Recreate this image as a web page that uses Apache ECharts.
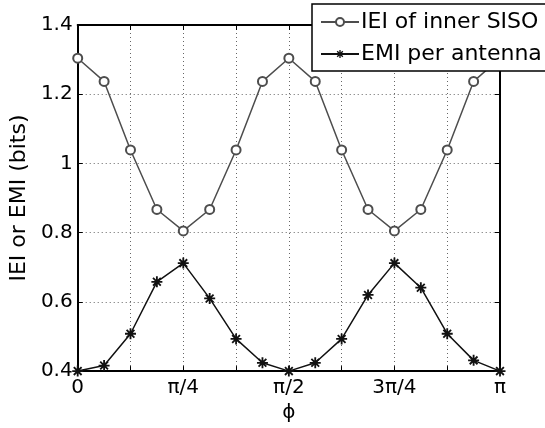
<!DOCTYPE html>
<html>
<head>
<meta charset="utf-8">
<script src="https://cdn.jsdelivr.net/npm/echarts@6/dist/echarts.min.js"></script>
<style>
html,body{margin:0;padding:0;background:#fff;}
#chart{width:545px;height:428px;}
</style>
</head>
<body>
<div id="chart"></div>
<script>
// x positions in steps of pi/16
const phiCategories = ['0','π/16','π/8','3π/16','π/4','5π/16','3π/8','7π/16','π/2','9π/16','5π/8','11π/16','3π/4','13π/16','7π/8','15π/16','π'];
const xTickLabels = {0:'0',4:'π/4',8:'π/2',12:'3π/4',16:'π'};
const yTickLabels = ['0.4','0.6','0.8','1','1.2','1.4'];
const ieiInnerSISO = [1.304,1.237,1.039,0.867,0.805,0.867,1.039,1.237,1.304,1.237,1.039,0.867,0.805,0.867,1.039,1.237,1.304];
const emiPerAntenna = [0.400,0.416,0.508,0.658,0.712,0.610,0.493,0.424,0.400,0.424,0.493,0.620,0.712,0.641,0.508,0.431,0.400];
const seriesNames = ['IEI of inner SISO','EMI per antenna'];

const FONT = 'DejaVu Sans';
const asterisk = 'path://M-1,-6L1,-6L1,6L-1,6Z M-6,-1L6,-1L6,1L-6,1Z M-3.53,-4.95L4.95,3.53L3.53,4.95L-4.95,-3.53Z M-3.53,4.95L-4.95,3.53L3.53,-4.95L4.95,-3.53Z';

const chart = echarts.init(document.getElementById('chart'), null, {renderer:'canvas'});
const gridLine = {show:true, lineStyle:{color:'#666', width:1, type:[1,3]}};
const axisLine = {show:true, onZero:false, lineStyle:{color:'#000', width:2}};
const tick = {show:true, inside:true, length:5, lineStyle:{color:'#000', width:1}};

chart.setOption({
  animation:false,
  backgroundColor:'#fff',
  grid:{left:76, top:25, right:45, bottom:50, containLabel:false},
  legend:{
    orient:'vertical', left:312, top:4,
    data:seriesNames,
    itemWidth:38, itemHeight:10, itemGap:10,
    padding:[7,16,6,8],
    backgroundColor:'#fff', borderColor:'#000', borderWidth:1.5,
    textStyle:{fontFamily:FONT, fontSize:22, color:'#000', padding:[0,0,0,-3]}
  },
  xAxis:[{
    type:'category', data:phiCategories, boundaryGap:false,
    name:'ϕ', nameLocation:'middle', nameGap:27,
    nameTextStyle:{fontFamily:FONT, fontSize:20, color:'#000'},
    axisLine:axisLine,
    axisTick:Object.assign({}, tick, {interval:(i)=>i%2===0}),
    axisLabel:{interval:(i)=>i%4===0, formatter:(v,i)=>xTickLabels[i]||'', fontFamily:FONT, fontSize:20, color:'#000', margin:7},
    splitLine:Object.assign({}, gridLine, {interval:(i)=>i%2===0})
  },{
    type:'category', data:phiCategories, boundaryGap:false, position:'top',
    axisLine:axisLine,
    axisTick:Object.assign({}, tick, {interval:(i)=>i%2===0}),
    axisLabel:{show:false}, splitLine:{show:false}
  }],
  yAxis:[{
    type:'value', min:0.4, max:1.4, interval:0.2,
    name:'IEI or EMI (bits)', nameLocation:'middle', nameGap:43,
    nameTextStyle:{fontFamily:FONT, fontSize:22, color:'#000'},
    axisLine:axisLine, axisTick:tick,
    axisLabel:{formatter:(v)=>yTickLabels[Math.round((v-0.4)/0.2)], fontFamily:FONT, fontSize:20, color:'#000', margin:5},
    splitLine:gridLine
  },{
    type:'value', min:0.4, max:1.4, interval:0.2, position:'right',
    axisLine:axisLine, axisTick:tick, axisLabel:{show:false}, splitLine:{show:false}
  }],
  series:[{
    name:seriesNames[0], type:'line', data:ieiInnerSISO,
    symbol:'emptyCircle', symbolSize:9, showAllSymbol:true,
    lineStyle:{color:'#4d4d4d', width:1.5},
    itemStyle:{color:'#4d4d4d', borderColor:'#4d4d4d', borderWidth:1.5},
    z:3
  },{
    name:seriesNames[1], type:'line', data:emiPerAntenna,
    symbol:asterisk, symbolSize:11, showAllSymbol:true,
    lineStyle:{color:'#111', width:1.5},
    itemStyle:{color:'#111'},
    z:3
  }]
});
</script>
</body>
</html>
